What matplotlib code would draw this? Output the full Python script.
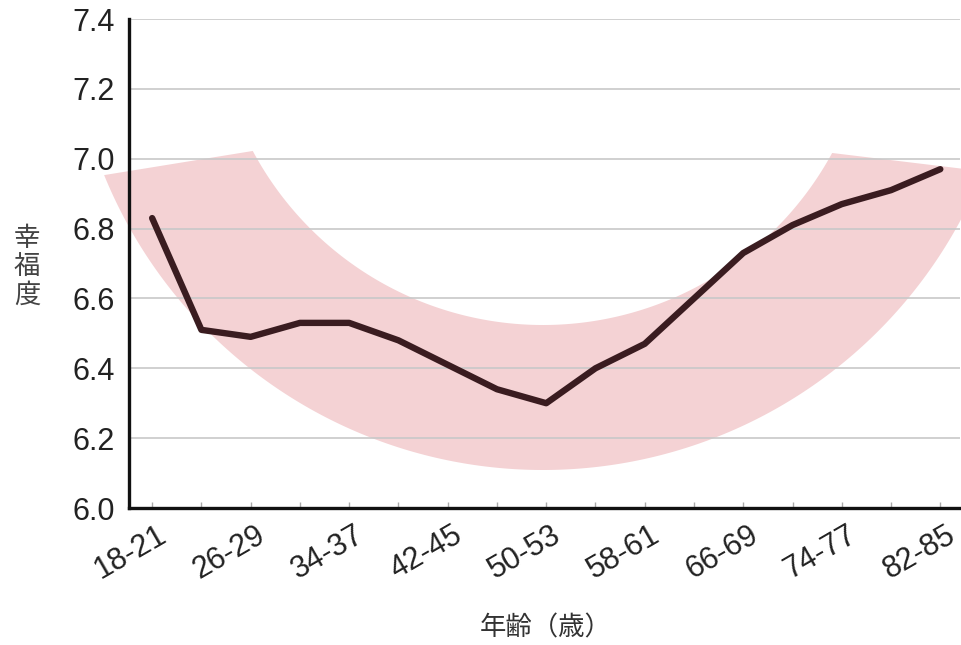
import numpy as np
import matplotlib
matplotlib.use("Agg")
import matplotlib.pyplot as plt
from matplotlib.patches import Polygon
from matplotlib.transforms import ScaledTranslation, Affine2D

# Age groups (years) and mean happiness score
age_groups = ["18-21", "22-25", "26-29", "30-33", "34-37", "38-41", "42-45",
              "46-49", "50-53", "54-57", "58-61", "62-65", "66-69", "70-73",
              "74-77", "78-81", "82-85"]
happiness = [6.83, 6.51, 6.49, 6.53, 6.53, 6.48, 6.41, 6.34, 6.30,
             6.40, 6.47, 6.60, 6.73, 6.81, 6.87, 6.91, 6.97]
y_ticks = [6.0, 6.2, 6.4, 6.6, 6.8, 7.0, 7.2, 7.4]

W, H = 961, 645
fig = plt.figure(figsize=(W / 100, H / 100), dpi=100)
fig.patch.set_facecolor("white")

# axes box in pixel units (left, top, right, bottom)
L, T, R, B = 129, 19, 960, 508
ax = fig.add_axes([L / W, 1 - B / H, (R - L) / W, (B - T) / H])

x = np.arange(len(age_groups))
ax.plot(x, happiness, color="#3a1c20", lw=4.6, solid_capstyle="round",
        solid_joinstyle="round", zorder=3)

ax.set_ylim(6.0, 7.4)
ax.set_xlim(-0.47, 16.4)
ax.set_yticks(y_ticks)
ax.set_yticklabels([f"{v:.1f}" for v in y_ticks])
ax.tick_params(axis="y", length=0, pad=10, labelsize=22, labelcolor="#222222")

ax.set_xticks(x)
ax.set_xticklabels([g if i % 2 == 0 else "" for i, g in enumerate(age_groups)])
ax.tick_params(axis="x", direction="in", length=4, width=1, color="#aaaaaa",
               pad=2, labelsize=22, labelcolor="#222222")
shift = ScaledTranslation(5 / 100, -9 / 100, fig.dpi_scale_trans)
for lab in ax.get_xticklabels():
    lab.set_rotation(30)
    lab.set_ha("right")
    lab.set_va("top")
    lab.set_rotation_mode("anchor")
    lab.set_transform(lab.get_transform() + shift)

# horizontal grid
ax.yaxis.grid(True, color="#c8c8c8", lw=1.2)
ax.set_axisbelow(True)

for s in ("top", "right"):
    ax.spines[s].set_visible(False)
for s in ("left", "bottom"):
    ax.spines[s].set_color("#111111")
    ax.spines[s].set_linewidth(2.4)

# pink U-shaped band behind the curve (pixel geometry, y downward)
cx, cy = 543, -4
r_out, r_in = 474, 329
a_out = np.radians(np.linspace(157.8, 21.7, 200))
a_in = np.radians(np.linspace(28.5, 151.9, 200))
px = np.concatenate([cx + r_out * np.cos(a_out), cx + r_in * np.cos(a_in)])
py = np.concatenate([cy + r_out * np.sin(a_out), cy + r_in * np.sin(a_in)])
pix = Affine2D().scale(1 / W, -1 / H).translate(0, 1) + fig.transFigure
band = Polygon(np.column_stack([px, py]), closed=True, facecolor="#f4d2d4",
               edgecolor="none", transform=pix, clip_on=False, zorder=0.3)
ax.add_patch(band)

cjk = ["Noto Sans CJK JP", "DejaVu Sans"]
fig.text(27 / W, 1 - 267 / H, "幸\n福\n度", fontsize=19, family=cjk,
         color="#444444", ha="center", va="center", linespacing=1.05)
fig.text(546 / W, 1 - 628 / H, "年齢（歳）", fontsize=19, family=cjk,
         color="#333333", ha="center", va="center")

for t in ax.get_xticklabels() + ax.get_yticklabels():
    t.set_family(["Liberation Sans", "DejaVu Sans"])

fig.savefig("out.png", dpi=100)
